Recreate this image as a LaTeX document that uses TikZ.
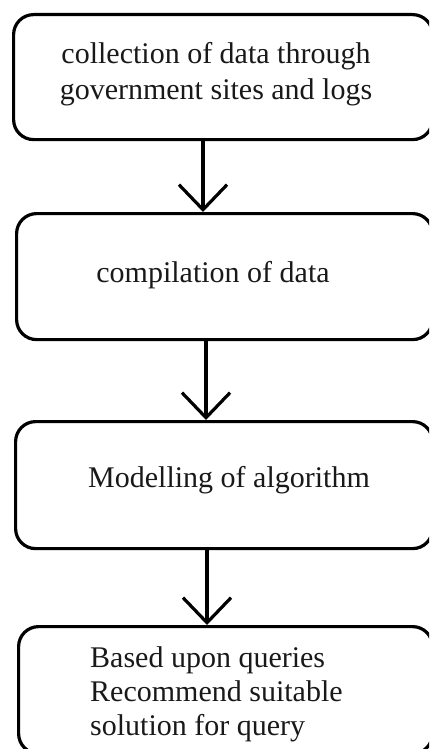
\documentclass[tikz,border=0pt]{standalone}
\usepackage{fontspec}
\setmainfont{Liberation Serif}
\usetikzlibrary{arrows.meta}
\begin{document}
\begin{tikzpicture}[x=1pt,y=-1pt,
  box/.style={draw=black, line width=3.2pt, rounded corners=20pt, anchor=north west, inner sep=0pt},
  lbl/.style={font=\fontsize{30}{36}\selectfont, inner sep=0pt, text=black!90},
  flow/.style={line width=3.2pt, -{Straight Barb[length=25pt,width=48pt,line width=3.2pt]}}]
\useasboundingbox (0,0) rectangle (429,749);
\begin{scope}
\clip (0,0) rectangle (429,749);
\node[box, minimum width=419pt, minimum height=125pt] (b1) at (12,13) {};
\node[box, minimum width=416pt, minimum height=126pt] (b2) at (15,212) {};
\node[box, minimum width=417pt, minimum height=127pt] (b3) at (14,420) {};
\node[box, minimum width=414pt, minimum height=127pt] (b4) at (17,625) {};
\draw[flow] (b1.south -| 203,0) -- (b2.north -| 203,0);
\draw[flow] (b2.south -| 206,0) -- (b3.north -| 206,0);
\draw[flow] (b3.south -| 207,0) -- (b4.north -| 207,0);
\node[lbl, align=center, anchor=base] (t1) at (216,100) {collection of data through\\government sites and logs};
\node[lbl, anchor=base] (t2) at (213,282) {compilation of data};
\node[lbl, anchor=base] (t3) at (229,487) {Modelling of algorithm};
\node[lbl, align=left, anchor=base west, font=\fontsize{30}{34}\selectfont] (t4) at (90,735) {Based upon queries\\Recommend suitable\\solution for query};
\end{scope}
\end{tikzpicture}
\end{document}
